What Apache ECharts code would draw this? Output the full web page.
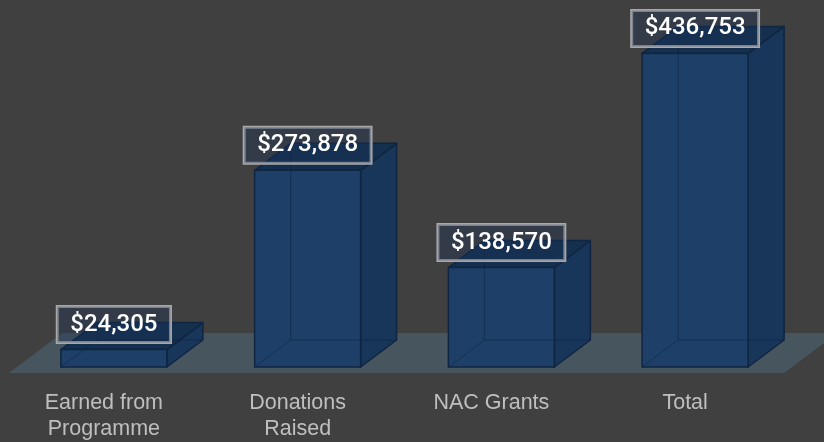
<!DOCTYPE html>
<html>
<head>
<meta charset="utf-8">
<style>
  html, body { margin: 0; padding: 0; background: #404040; }
  #chart { width: 824px; height: 442px; }
</style>
<script src="https://cdn.jsdelivr.net/npm/echarts@6/dist/echarts.min.js"></script>
</head>
<body>
<div id="chart"></div>
<script>
// ---- data ----
const categories = ['Earned from\nProgramme', 'Donations\nRaised', 'NAC Grants', 'Total'];
const values = [24305, 273878, 138570, 436753];

// ---- style constants ----
const DEPTH_X = 36, DEPTH_Y = -27;
const BAR_RATIO = 0.547;
const FLOOR_FRONT = -6 / 27, FLOOR_BACK = 34 / 27;

function fmt(v) { return '$' + v.toLocaleString('en-US'); }

function renderFloor(params, api) {
  const cs = params.coordSys;
  const y0 = api.coord([0, 0])[1];
  const fx = DEPTH_X * FLOOR_FRONT, fy = DEPTH_Y * FLOOR_FRONT;
  const bx = DEPTH_X * FLOOR_BACK, by = DEPTH_Y * FLOOR_BACK;
  const l = cs.x, r = cs.x + cs.width;
  return {
    type: 'polygon',
    shape: { points: [[l + fx, y0 + fy], [r + fx, y0 + fy], [r + bx, y0 + by], [l + bx, y0 + by]] },
    style: { fill: '#47565e' },
    silent: true
  };
}

function renderBar(params, api) {
  const cat = api.value(0), val = api.value(1);
  const base = api.coord([cat, 0]);
  const top = api.coord([cat, val]);
  const bw = api.size([1, 0])[0] * BAR_RATIO;
  const x0 = base[0] - bw / 2, x1 = base[0] + bw / 2;
  const y0 = base[1], yt = top[1];
  const dx = DEPTH_X, dy = DEPTH_Y;
  const edge = '#0f2542';
  const hidden = 'rgba(12,35,65,0.55)';
  return {
    type: 'group',
    children: [
      { type: 'polygon', shape: { points: [[x1, yt], [x1 + dx, yt + dy], [x1 + dx, y0 + dy], [x1, y0]] },
        style: { fill: '#18355a', stroke: edge, lineWidth: 1.5, lineJoin: 'round' } },
      { type: 'polygon', shape: { points: [[x0, yt], [x0 + dx, yt + dy], [x1 + dx, yt + dy], [x1, yt]] },
        style: { fill: '#15304f', stroke: edge, lineWidth: 1.5, lineJoin: 'round' } },
      { type: 'rect', shape: { x: x0, y: yt, width: bw, height: y0 - yt },
        style: { fill: '#1e4068', stroke: edge, lineWidth: 1.5 } },
      { type: 'polyline', shape: { points: [[x0 + dx, yt + dy], [x0 + dx, y0 + dy], [x1 + dx, y0 + dy]] },
        style: { fill: null, stroke: hidden, lineWidth: 1 } },
      { type: 'line', shape: { x1: x0, y1: y0, x2: x0 + dx, y2: y0 + dy },
        style: { stroke: hidden, lineWidth: 1 } },
      { type: 'text', z2: 20,
        style: {
          text: fmt(val), x: base[0], y: yt - 7, align: 'center', verticalAlign: 'bottom',
          fill: '#ffffff', fontFamily: 'Roboto', fontWeight: 500, fontSize: 24, lineHeight: 26,
          backgroundColor: 'rgba(25,50,90,0.32)', borderColor: '#a8a8a8', borderWidth: 1.5,
          padding: [5, 13, 5, 13]
        } }
    ]
  };
}

const chart = echarts.init(document.getElementById('chart'), null, { renderer: 'canvas' });
chart.setOption({
  backgroundColor: '#404040',
  animation: false,
  grid: { left: 17, right: 32, top: 8, bottom: 75, containLabel: false },
  xAxis: {
    type: 'category',
    data: categories,
    axisLine: { show: false },
    axisTick: { show: false },
    splitLine: { show: false },
    axisLabel: {
      interval: 0,
      margin: 23,
      color: '#bfbfbf',
      fontFamily: 'Liberation Sans',
      fontSize: 21.5,
      lineHeight: 26,
      padding: [0, 20, 0, 0]
    }
  },
  yAxis: {
    type: 'value', min: 0, max: 500000, show: false,
    splitLine: { show: false }
  },
  series: [
    { type: 'custom', renderItem: renderFloor, data: [[0, 0]], z: 1, silent: true, clip: false },
    { type: 'custom', renderItem: renderBar, data: values.map((v, i) => [i, v]), z: 2, clip: false }
  ]
});
</script>
</body>
</html>
